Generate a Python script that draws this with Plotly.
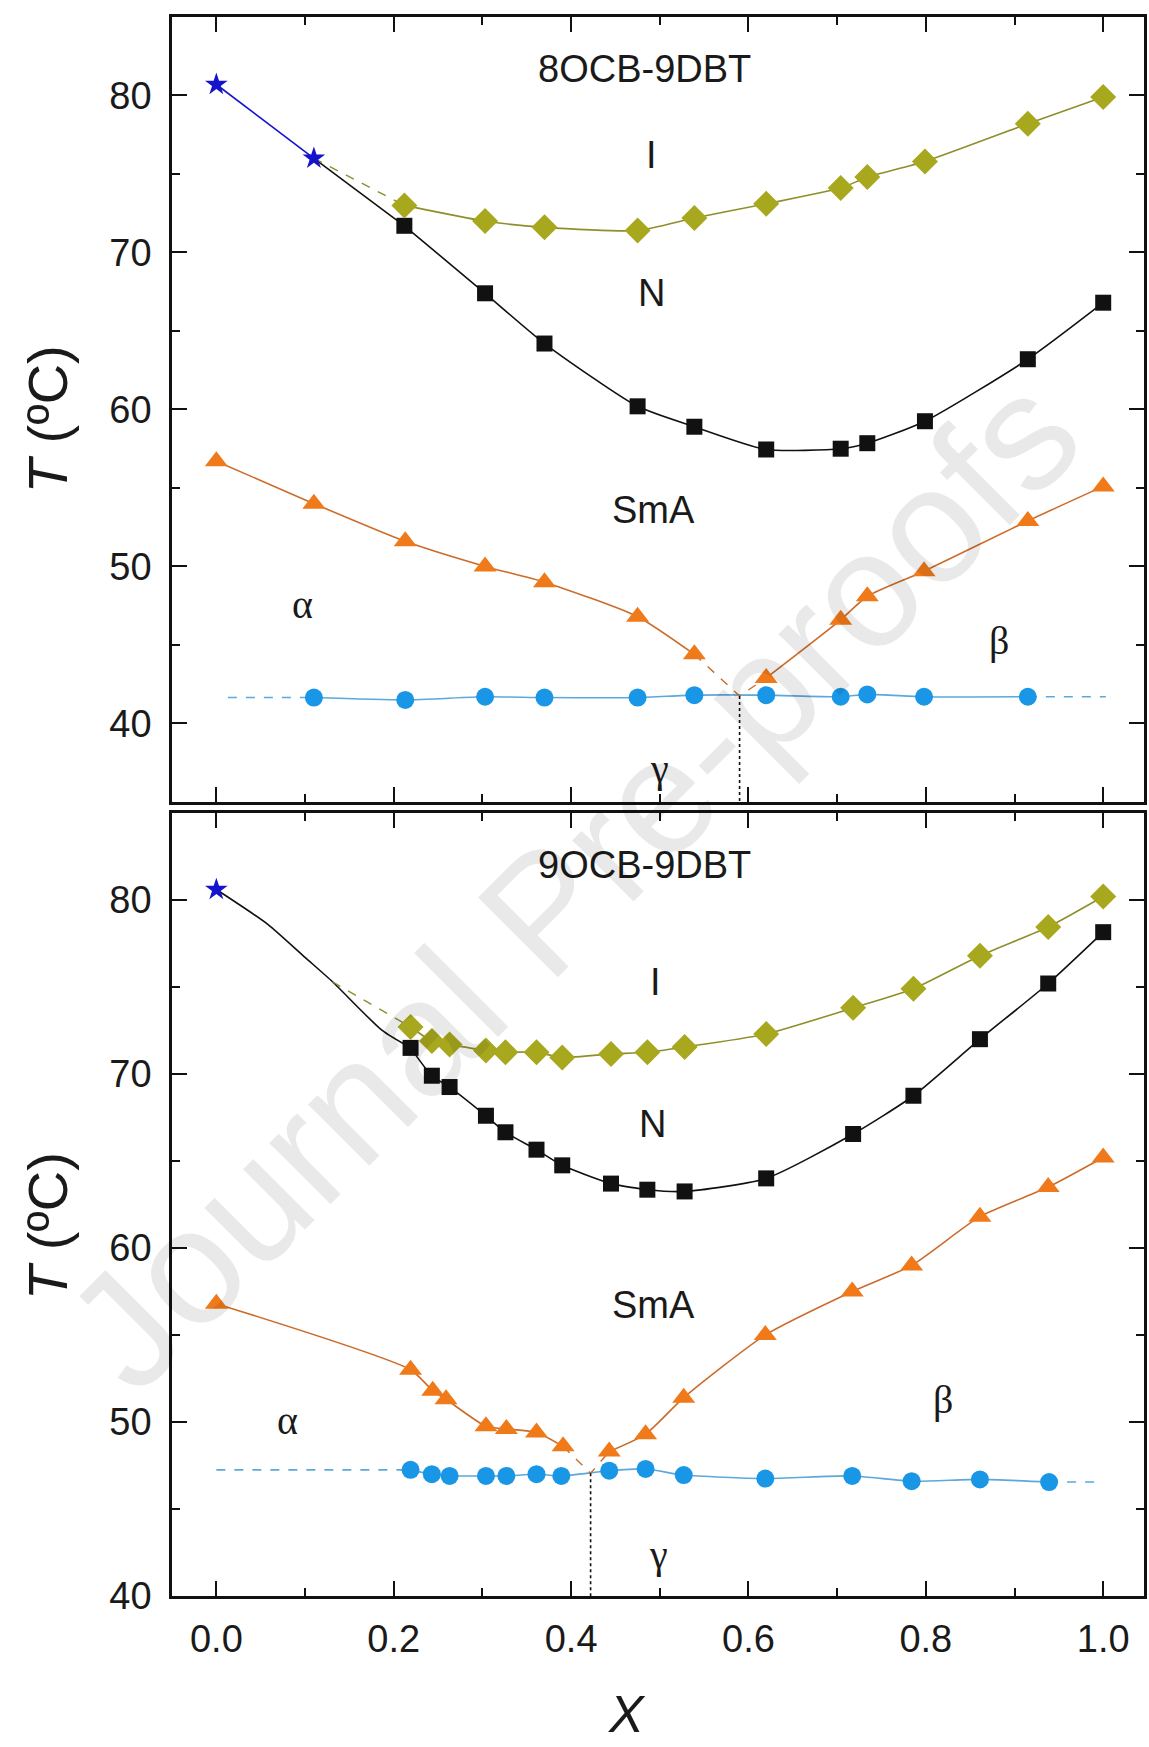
import plotly.graph_objects as go

# ---------------- 8OCB-9DBT (upper panel) ----------------
x_star_8 = [0.0, 0.110]
t_star_8 = [80.7, 76.0]

x_8 = [0.212, 0.303, 0.370, 0.475, 0.539, 0.620, 0.704, 0.734, 0.799, 0.915, 1.0]
t_iso_8 = [73.0, 72.0, 71.6, 71.4, 72.2, 73.1, 74.1, 74.8, 75.8, 78.2, 79.9]
t_nem_8 = [71.7, 67.4, 64.2, 60.2, 58.9, 57.45, 57.5, 57.85, 59.25, 63.2, 66.8]

x_sma_a_8 = [0.0, 0.110, 0.213, 0.303, 0.370, 0.475, 0.539]
t_sma_a_8 = [56.7, 54.0, 51.6, 50.0, 49.0, 46.8, 44.4]
x_sma_b_8 = [0.620, 0.704, 0.734, 0.798, 0.915, 1.0]
t_sma_b_8 = [42.9, 46.6, 48.1, 49.7, 52.9, 55.1]

x_cr_8 = [0.110, 0.213, 0.303, 0.370, 0.475, 0.539, 0.620, 0.704, 0.734, 0.798, 0.915]
t_cr_8 = [41.65, 41.5, 41.7, 41.65, 41.65, 41.8, 41.8, 41.7, 41.85, 41.7, 41.7]
x_cr_ext_8 = [0.013, 1.003]

x_eut_8 = 0.590
t_eut_8 = 41.75

# ---------------- 9OCB-9DBT (lower panel) ----------------
x_star_9 = [0.0]
t_star_9 = [80.6]

x_guide_9 = [0.0, 0.058, 0.100, 0.131, 0.187, 0.219]
t_guide_9 = [80.6, 78.6, 76.7, 75.3, 72.5, 71.5]
x_iso_guide_9 = [0.131, 0.219]
t_iso_guide_9 = [75.3, 72.7]

x_9 = [0.219, 0.243, 0.263, 0.304, 0.326, 0.361, 0.390, 0.445, 0.486, 0.528,
       0.620, 0.718, 0.786, 0.861, 0.938, 1.0]
t_iso_9 = [72.7, 71.9, 71.7, 71.35, 71.25, 71.25, 70.95, 71.15, 71.25, 71.55,
           72.3, 73.8, 74.9, 76.8, 78.45, 80.2]
t_nem_9 = [71.5, 69.9, 69.25, 67.6, 66.65, 65.65, 64.75, 63.7, 63.35, 63.25,
           64.0, 66.55, 68.75, 72.0, 75.2, 78.15]

x_sma_a_9 = [0.0, 0.219, 0.244, 0.259, 0.304, 0.327, 0.361, 0.391]
t_sma_a_9 = [56.8, 53.0, 51.8, 51.3, 49.75, 49.6, 49.4, 48.6]
x_sma_b_9 = [0.443, 0.484, 0.527, 0.619, 0.717, 0.784, 0.861, 0.938, 1.0]
t_sma_b_9 = [48.3, 49.3, 51.4, 55.0, 57.5, 59.0, 61.8, 63.5, 65.2]

x_cr_9 = [0.219, 0.243, 0.263, 0.304, 0.327, 0.361, 0.389, 0.443, 0.484, 0.527,
          0.619, 0.717, 0.784, 0.861, 0.939]
t_cr_9 = [47.25, 47.0, 46.9, 46.9, 46.9, 47.0, 46.9, 47.2, 47.3, 46.95,
          46.75, 46.9, 46.6, 46.7, 46.55]
x_cr_ext_9 = [0.0, 0.993]

x_eut_9 = 0.422
t_eut_9 = 47.05

# ---------------- styling ----------------
OLIVE = "#a8a81e"
OLIVE_LINE = "#8f8f2a"
BLACK = "#111111"
ORANGE = "#f07a1a"
ORANGE_LINE = "#cc6c2a"
BLUE = "#1a96e6"
BLUE_LINE = "#5aa9da"
STAR = "#1414cc"
SANS = "Liberation Sans, Arial, sans-serif"
SERIF = "Liberation Serif, Times New Roman, serif"

fig = go.Figure()


def line(x, y, color, xa, ya, dash="solid", width=1.6, shape="spline"):
    fig.add_trace(go.Scatter(
        x=x, y=y, mode="lines", xaxis=xa, yaxis=ya, showlegend=False,
        line=dict(color=color, width=width, dash=dash, shape=shape, smoothing=0.6),
        hoverinfo="skip"))


def pts(x, y, color, symbol, size, xa, ya):
    fig.add_trace(go.Scatter(
        x=x, y=y, mode="markers", xaxis=xa, yaxis=ya, showlegend=False,
        marker=dict(color=color, symbol=symbol, size=size, line=dict(width=0))))


def panel(xa, ya, x_c, t_iso, t_nem, xa_a, ta_a, xa_b, ta_b, x_cr, t_cr, x_ext,
          x_eut, t_eut, y_floor):
    # crystal-crystal boundary with dashed extensions
    line([x_ext[0], x_cr[0]], [t_cr[0], t_cr[0]], BLUE_LINE, xa, ya, dash="dash", shape="linear")
    line([x_cr[-1], x_ext[1]], [t_cr[-1], t_cr[-1]], BLUE_LINE, xa, ya, dash="dash", shape="linear")
    line(x_cr, t_cr, BLUE_LINE, xa, ya)
    # SmA-crystal branches meeting at the eutectic point
    line(xa_a, ta_a, ORANGE_LINE, xa, ya)
    line(xa_b, ta_b, ORANGE_LINE, xa, ya)
    line([xa_a[-1], x_eut, xa_b[0]], [ta_a[-1], t_eut, ta_b[0]], ORANGE_LINE, xa, ya,
         dash="dash", width=1.4, shape="linear")
    line([x_eut, x_eut], [t_eut, y_floor], BLACK, xa, ya, dash="dot", width=1.6, shape="linear")
    # N-I and SmA-N lines
    line(x_c, t_iso, OLIVE_LINE, xa, ya)
    line(x_c, t_nem, BLACK, xa, ya)
    pts(x_cr, t_cr, BLUE, "circle", 18, xa, ya)
    pts(xa_a + xa_b, ta_a + ta_b, ORANGE, "triangle-up", 20, xa, ya)
    pts(x_c, t_nem, BLACK, "square", 16, xa, ya)
    pts(x_c, t_iso, OLIVE, "diamond", 20, xa, ya)


# upper panel extras: pure 8OCB side
line(x_star_8, t_star_8, STAR, "x", "y", width=1.6, shape="linear")
line([x_star_8[-1], x_8[0]], [t_star_8[-1], t_nem_8[0]], BLACK, "x", "y", shape="linear")
line([x_star_8[-1], x_8[0]], [t_star_8[-1], t_iso_8[0]], OLIVE_LINE, "x", "y",
     dash="dash", width=1.4, shape="linear")
panel("x", "y", x_8, t_iso_8, t_nem_8, x_sma_a_8, t_sma_a_8, x_sma_b_8, t_sma_b_8,
      x_cr_8, t_cr_8, x_cr_ext_8, x_eut_8, t_eut_8, 35)
pts(x_star_8, t_star_8, STAR, "star", 17, "x", "y")

# lower panel extras: pure 9OCB side
line(x_guide_9, t_guide_9, BLACK, "x2", "y2")
line(x_iso_guide_9, t_iso_guide_9, OLIVE_LINE, "x2", "y2", dash="dash", width=1.4, shape="linear")
panel("x2", "y2", x_9, t_iso_9, t_nem_9, x_sma_a_9, t_sma_a_9, x_sma_b_9, t_sma_b_9,
      x_cr_9, t_cr_9, x_cr_ext_9, x_eut_9, t_eut_9, 40)
pts(x_star_9, t_star_9, STAR, "star", 17, "x2", "y2")

tickfont = dict(family=SANS, size=38, color="#1a1a1a")
xcommon = dict(range=[-0.05, 1.046], tick0=0, dtick=0.2, ticks="inside", ticklen=15,
               tickwidth=2, tickcolor=BLACK, showline=True, linewidth=2.5, linecolor=BLACK,
               mirror="ticks", showgrid=False, zeroline=False, tickformat=".1f",
               tickfont=tickfont,
               minor=dict(dtick=0.1, ticks="inside", ticklen=8, tickwidth=2, tickcolor=BLACK))
ycommon = dict(dtick=10, ticks="inside", ticklen=15, tickwidth=2, tickcolor=BLACK,
               showline=True, linewidth=2.5, linecolor=BLACK, mirror="ticks",
               showgrid=False, zeroline=False, tickfont=tickfont, ticklabelstandoff=10,
               minor=dict(dtick=5, ticks="inside", ticklen=8, tickwidth=2, tickcolor=BLACK))

fig.update_layout(
    width=1149, height=1747, paper_bgcolor="white", plot_bgcolor="white",
    margin=dict(l=172, r=2, t=17, b=151),
    xaxis=dict(xcommon, anchor="y", domain=[0, 1], showticklabels=False),
    yaxis=dict(ycommon, anchor="x", domain=[0.5029, 1], range=[35, 85], tick0=40),
    xaxis2=dict(xcommon, anchor="y2", domain=[0, 1], ticklabelstandoff=8),
    yaxis2=dict(ycommon, anchor="x2", domain=[0, 0.4959], range=[40, 85], tick0=40),
)

ann = []


def label(text, x, y, xr, yr, size=38, family=SANS):
    ann.append(dict(text=text, x=x, y=y, xref=xr, yref=yr, showarrow=False,
                    font=dict(family=family, size=size, color="#1a1a1a"),
                    xanchor="center", yanchor="middle"))


# phase labels, upper panel
label("8OCB-9DBT", 0.483, 81.7, "x", "y")
label("I", 0.491, 76.2, "x", "y")
label("N", 0.491, 67.4, "x", "y")
label("SmA", 0.493, 53.6, "x", "y")
label("α", 0.097, 47.6, "x", "y", family=SERIF, size=40)
label("β", 0.883, 45.3, "x", "y", family=SERIF, size=40)
label("γ", 0.500, 37.1, "x", "y", family=SERIF, size=40)
# phase labels, lower panel
label("9OCB-9DBT", 0.483, 82.0, "x2", "y2")
label("I", 0.495, 75.3, "x2", "y2")
label("N", 0.492, 67.1, "x2", "y2")
label("SmA", 0.493, 56.7, "x2", "y2")
label("α", 0.080, 50.1, "x2", "y2", family=SERIF, size=40)
label("β", 0.819, 51.3, "x2", "y2", family=SERIF, size=40)
label("γ", 0.498, 42.4, "x2", "y2", family=SERIF, size=40)

# axis titles
for yc in (0.745, 0.234):
    ann.append(dict(text="<i>T</i> (ºC)", x=-0.128, y=yc, xref="paper", yref="paper",
                    showarrow=False, textangle=-90, xanchor="center", yanchor="middle",
                    font=dict(family=SANS, size=56, color="#1a1a1a")))
ann.append(dict(text="<i>X</i>", x=0.468, y=-0.0745, xref="paper", yref="paper",
                showarrow=False, xanchor="center", yanchor="middle",
                font=dict(family=SANS, size=52, color="#1a1a1a")))

# journal watermark
ann.append(dict(text="Journal Pre-proofs", x=0.412, y=0.452, xref="paper", yref="paper",
                showarrow=False, textangle=-45, xanchor="center", yanchor="middle",
                font=dict(family=SANS, size=164, color="rgba(0,0,0,0.085)")))

fig.update_layout(annotations=ann)
fig.write_html("out.html")
